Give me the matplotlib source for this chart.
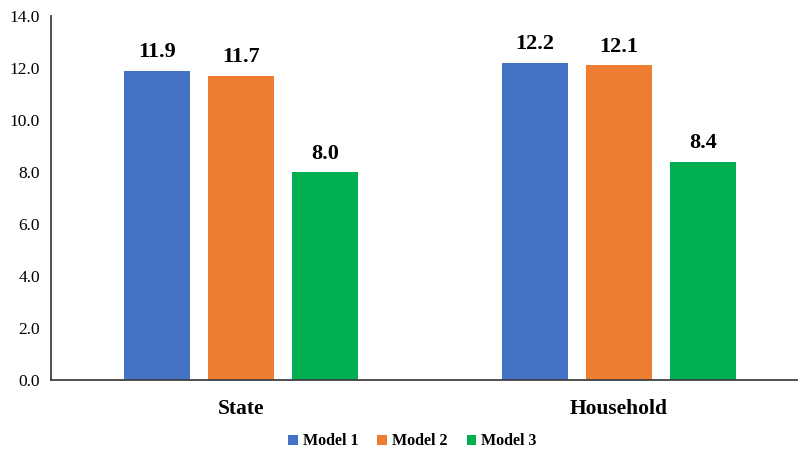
import numpy as np
import matplotlib.pyplot as plt

categories = ['State', 'Household']
series = ['Model 1', 'Model 2', 'Model 3']
model1 = [11.9, 12.2]
model2 = [11.7, 12.1]
model3 = [8.0, 8.4]
colors = ['#4472C4', '#ED7D31', '#00B050']

plt.rcParams['font.family'] = ['Liberation Serif', 'DejaVu Serif']

fig = plt.figure(figsize=(7.99, 4.51), dpi=100)
ax = fig.add_axes([0.0638, 0.1574, 0.9337, 0.8071])

x = np.arange(len(categories))
w = 0.175
step = 0.222
for i, (name, vals) in enumerate(zip(series, [model1, model2, model3])):
    pos = x + (i - 1) * step
    bars = ax.bar(pos, vals, width=w, color=colors[i], label=name)
    for b, v in zip(bars, vals):
        ax.annotate('%.1f' % v, (b.get_x() + b.get_width() / 2, v),
                    xytext=(0, 6), textcoords='offset points',
                    ha='center', va='bottom', fontsize=16, fontweight='bold')

ax.set_xlim(-0.503, 1.471)
ax.set_ylim(0, 14)
ax.set_yticks(np.arange(0, 14.1, 2))
ax.set_yticklabels(['%.1f' % t for t in np.arange(0, 14.1, 2)], fontsize=12.5)
ax.set_xticks(x)
ax.set_xticklabels(categories, fontsize=15.5, fontweight='bold')
ax.tick_params(axis='both', length=0)
ax.tick_params(axis='y', pad=8)
ax.tick_params(axis='x', pad=14)
for s in ['top', 'right']:
    ax.spines[s].set_visible(False)
for s in ['left', 'bottom']:
    ax.spines[s].set_color('#404040')
    ax.spines[s].set_linewidth(1.3)

fig.legend(loc='lower center', bbox_to_anchor=(0.516, -0.028), ncol=3, frameon=False,
           prop={'weight': 'bold', 'size': 11.5}, handlelength=0.6, handleheight=0.6,
           handletextpad=0.3, columnspacing=1.2)

fig.savefig('out.png', dpi=100)
